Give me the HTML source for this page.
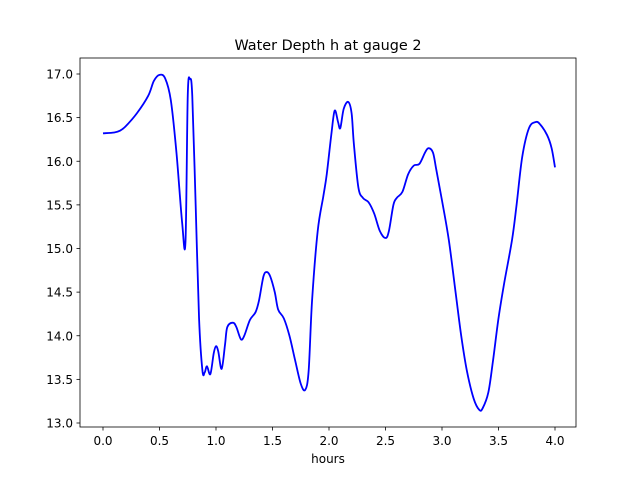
<!DOCTYPE html>
<html><head><meta charset="utf-8"><style>
body{margin:0;background:#fff}
svg text{font-family:"DejaVu Sans","Liberation Sans",sans-serif;fill:#000}
</style></head><body>
<svg id="chart" width="640" height="480" xmlns="http://www.w3.org/2000/svg">
<rect width="640" height="480" fill="#fff"/>
<text x="328" y="50" font-size="14.4" text-anchor="middle">Water Depth h at gauge 2</text>
<g id="xt"></g><g id="yt"></g>
<path id="line" fill="none" stroke="#0000ff" stroke-width="1.8"/>
<rect x="80" y="58" width="496" height="369" fill="none" stroke="#000" stroke-width="0.8"/>
<text x="328" y="463" font-size="12" text-anchor="middle">hours</text>
</svg>
<script>
const hours=[0,0.1,0.15,0.2,0.3,0.4,0.45,0.5,0.55,0.6,0.65,0.7,0.73,0.75,0.77,0.79,0.82,0.85,0.88,0.9,0.92,0.95,0.98,1.0,1.02,1.05,1.08,1.1,1.15,1.18,1.22,1.25,1.3,1.35,1.38,1.42,1.45,1.48,1.52,1.55,1.6,1.65,1.7,1.75,1.79,1.82,1.85,1.9,1.95,1.98,2.02,2.05,2.08,2.1,2.13,2.17,2.2,2.22,2.26,2.3,2.35,2.4,2.45,2.5,2.53,2.57,2.6,2.65,2.7,2.75,2.8,2.85,2.88,2.92,2.95,3.0,3.06,3.12,3.17,3.22,3.28,3.33,3.36,3.41,3.45,3.5,3.55,3.62,3.66,3.71,3.77,3.83,3.87,3.93,3.97,4.0];
const depth=[16.32,16.33,16.35,16.4,16.55,16.75,16.92,16.99,16.95,16.7,16.1,15.3,15.08,16.75,16.94,16.75,15.5,14.2,13.6,13.58,13.65,13.56,13.8,13.88,13.82,13.62,13.9,14.1,14.15,14.1,13.96,14.0,14.18,14.27,14.4,14.68,14.73,14.68,14.5,14.3,14.2,14.0,13.72,13.45,13.38,13.6,14.4,15.2,15.6,15.85,16.3,16.58,16.45,16.38,16.6,16.68,16.55,16.2,15.7,15.58,15.53,15.4,15.2,15.12,15.2,15.5,15.58,15.65,15.85,15.95,15.97,16.1,16.15,16.1,15.9,15.55,15.1,14.5,14.0,13.6,13.28,13.15,13.17,13.35,13.7,14.2,14.6,15.1,15.5,16.05,16.38,16.45,16.42,16.3,16.15,15.93];
const xTicks=[0,0.5,1,1.5,2,2.5,3,3.5,4];
const yTicks=[13,13.5,14,14.5,15,15.5,16,16.5,17];
const X=v=>103+v*113, Y=v=>423-(v-13)*87.25;
const NS="http://www.w3.org/2000/svg";
function mk(t,a,p){const e=document.createElementNS(NS,t);for(const k in a)e.setAttribute(k,a[k]);p.appendChild(e);return e;}
const xt=document.getElementById('xt'),yt=document.getElementById('yt');
xTicks.forEach(v=>{
 const l=mk('line',{x1:X(v),x2:X(v),y1:427,y2:430.5,stroke:'#000','stroke-width':0.8},xt);
 
 
 const t=mk('text',{x:X(v),y:445,'font-size':12,'text-anchor':'middle'},xt);t.textContent=v.toFixed(1);
 
 
});
yTicks.forEach(v=>{
 const l=mk('line',{x1:76.5,x2:80,y1:Y(v),y2:Y(v),stroke:'#000','stroke-width':0.8},yt);
 
 
 const t=mk('text',{x:73,y:Y(v)+4.5,'font-size':12,'text-anchor':'end'},yt);t.textContent=v.toFixed(1);
 
 
});
const P=hours.map((h,i)=>[X(h),Y(depth[i])]);
let d='M'+P[0][0]+','+P[0][1];
for(let i=0;i<P.length-1;i++){
 const p0=P[Math.max(0,i-1)],p1=P[i],p2=P[i+1],p3=P[Math.min(P.length-1,i+2)];
 const c1=[p1[0]+(p2[0]-p0[0])/6,p1[1]+(p2[1]-p0[1])/6],c2=[p2[0]-(p3[0]-p1[0])/6,p2[1]-(p3[1]-p1[1])/6];
 d+=`C${c1[0]},${c1[1]} ${c2[0]},${c2[1]} ${p2[0]},${p2[1]}`;
}
document.getElementById('line').setAttribute('d',d);
</script>
</body></html>
